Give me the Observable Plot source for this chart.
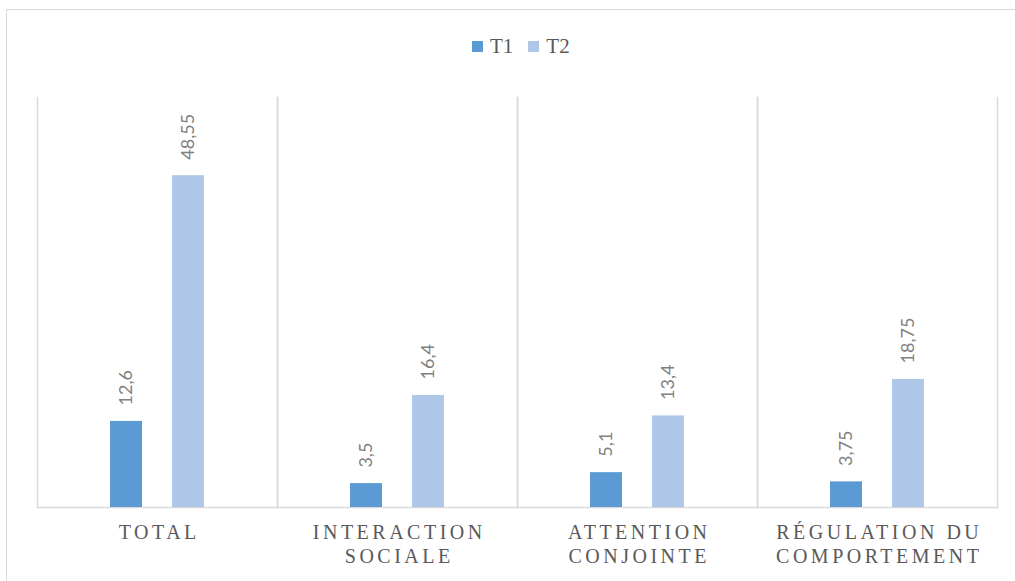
<!DOCTYPE html>
<html>
<head>
<meta charset="utf-8">
<script src="https://cdn.jsdelivr.net/npm/d3@7"></script>
<script src="https://cdn.jsdelivr.net/npm/@observablehq/plot@0.6"></script>
<style>
  html, body { margin: 0; padding: 0; background: #fff; }
  #wrap { position: relative; width: 1015px; height: 581px; overflow: hidden; }
  #frame { position: absolute; left: 6px; top: 9px; width: 1100px; height: 700px;
           border: 1.5px solid #d9d9d9; box-sizing: border-box; pointer-events: none; }
  #legend { position: absolute; left: 472px; top: 34px; display: flex; align-items: center;
            font-size: 21px; color: #595959; }
  #legend .sw { width: 11px; height: 11px; display: inline-block; margin-right: 7px; }
  #legend .item { display: flex; align-items: center; margin-right: 15px; }
  #chart { position: absolute; left: 0; top: 0; }
</style>
</head>
<body>
<div id="wrap">
  <div id="chart"></div>
  <div id="frame"></div>
  <div id="legend"></div>
</div>
<script>
const categories = ["TOTAL", "INTERACTION SOCIALE", "ATTENTION CONJOINTE", "RÉGULATION DU COMPORTEMENT"];
const categoryLabels = ["TOTAL", "INTERACTION\nSOCIALE", "ATTENTION\nCONJOINTE", "RÉGULATION DU\nCOMPORTEMENT"];
const series = ["T1", "T2"];
const t1Values = [12.6, 3.5, 5.1, 3.75];
const t2Values = [48.55, 16.4, 13.4, 18.75];
const colors = ["#5b9bd5", "#aec6e7"];

const serif = "'Liberation Serif', 'Times New Roman', serif";

const data = [];
categories.forEach((c, i) => {
  data.push({cat: c, series: "T1", value: t1Values[i]});
  data.push({cat: c, series: "T2", value: t2Values[i]});
});
const labelData = categories.map((c, i) => ({cat: c, label: categoryLabels[i]}));
const fmt = v => String(v).replace(".", ",");

const chart = Plot.plot({
  width: 1015,
  height: 581,
  marginLeft: 35,
  marginRight: 17,
  marginTop: 97,
  marginBottom: 74,
  style: {background: "transparent"},
  fx: {domain: categories, padding: 0, axis: null},
  x: {domain: series, paddingInner: 0.476, paddingOuter: 1.149, axis: null},
  y: {domain: [0, 60], axis: null},
  color: {domain: series, range: colors},
  marks: [
    Plot.frame({anchor: "left", stroke: "#d9d9d9", strokeWidth: 1.5}),
    Plot.frame({anchor: "right", stroke: "#d9d9d9", strokeWidth: 1.5}),
    Plot.ruleY([0], {stroke: "#d9d9d9", strokeWidth: 1.5}),
    Plot.barY(data, {fx: "cat", x: "series", y: "value", fill: "series"}),
    Plot.text(data, {
      fx: "cat", x: "series", y: "value", text: d => fmt(d.value),
      rotate: -90, textAnchor: "start", lineAnchor: "middle", dy: -16,
      fontFamily: "Lato, 'Liberation Sans', sans-serif", fontSize: 18, fill: "#808080"
    }),
    Plot.text(labelData, {
      fx: "cat", text: "label", frameAnchor: "bottom", lineAnchor: "top",
      dy: 14, dx: 1.75, lineHeight: 1.22,
      fontFamily: serif, fontSize: 20, fill: "#595959",
      ariaLabel: "category-labels"
    })
  ]
});
document.getElementById("chart").appendChild(chart);

// letter spacing for the category labels
const firstLines = categoryLabels.map(l => l.split("\n")[0]);
d3.select(chart).selectAll("text").each(function () {
  const t = this.textContent;
  if (firstLines.some(f => t.startsWith(f))) {
    this.setAttribute("letter-spacing", "3.5px");
    this.style.letterSpacing = "3.5px";
  }
});

const legend = document.getElementById("legend");
series.forEach((s, i) => {
  const item = document.createElement("div");
  item.className = "item";
  const sw = document.createElement("span");
  sw.className = "sw";
  sw.style.background = colors[i];
  const t = document.createElement("span");
  t.textContent = s;
  t.style.fontFamily = serif;
  item.appendChild(sw);
  item.appendChild(t);
  legend.appendChild(item);
});
</script>
</body>
</html>
